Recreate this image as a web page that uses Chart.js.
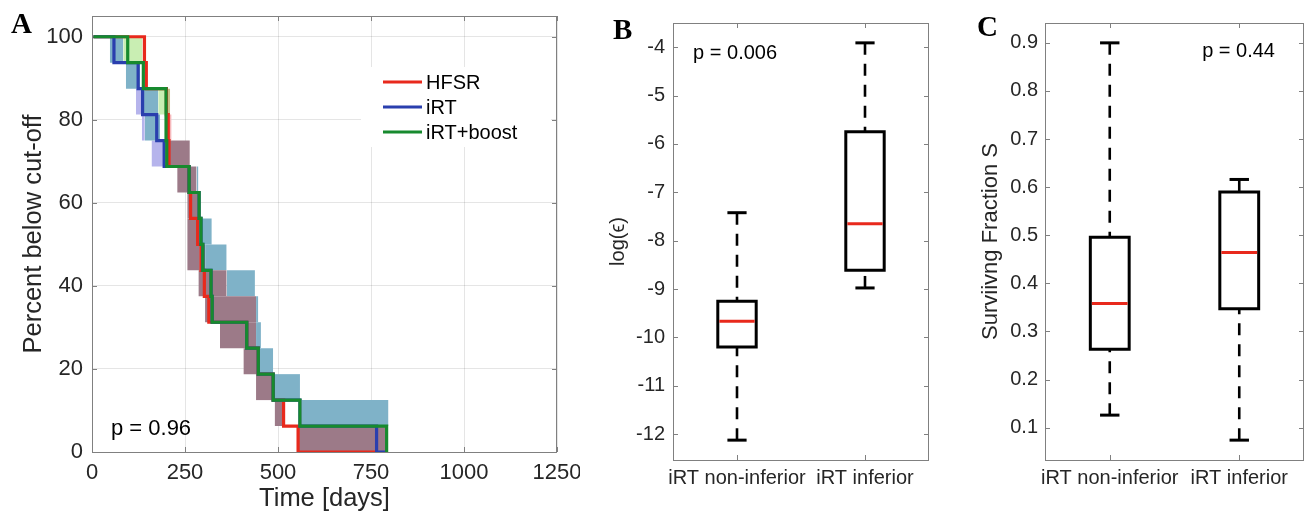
<!DOCTYPE html>
<html><head><meta charset="utf-8">
<script src="https://cdn.jsdelivr.net/npm/chart.js@4.4.1/dist/chart.umd.min.js"></script>
<style>
html,body{margin:0;padding:0;background:#fff;}
body{width:1309px;height:514px;position:relative;overflow:hidden;}
canvas{position:absolute;top:0;}
.lbl{position:absolute;font:bold 29px "Liberation Serif","Times New Roman",serif;line-height:29px;color:#000;}
</style></head><body>
<canvas id="cA" width="580" height="514" style="left:0px"></canvas>
<canvas id="cB" width="360" height="514" style="left:600px"></canvas>
<canvas id="cC" width="349" height="514" style="left:960px"></canvas>
<div class="lbl" style="left:11px;top:9px">A</div>
<div class="lbl" style="left:613px;top:15px">B</div>
<div class="lbl" style="left:977px;top:12px">C</div>
<script>
// ---------------- Panel A data ----------------
const kmLabels = ['HFSR', 'iRT', 'iRT+boost'];
const hfsrDays = [4, 141, 146, 200, 205, 207, 261, 265, 284, 293, 302, 314, 416, 447, 487, 515, 554, 765];
const hfsrPct  = [100, 93.75, 87.5, 81.25, 75, 68.75, 62.5, 56.25, 50, 43.75, 37.5, 31.25, 25, 18.75, 12.5, 6.25, 0, 0];
const irtDays  = [4, 59, 124, 136, 174, 194, 261, 288, 293, 298, 320, 323, 416, 447, 487, 559, 765, 792];
const irtPct   = [100, 93.75, 87.5, 81.25, 75, 68.75, 62.5, 56.25, 50, 43.75, 37.5, 31.25, 25, 18.75, 12.5, 6.25, 0, 0];
const boostDays = [4, 96, 138, 199, 201, 261, 288, 293, 298, 320, 323, 416, 447, 487, 559, 792];
const boostPct  = [100, 93.75, 87.5, 75, 68.75, 62.5, 56.25, 50, 43.75, 37.5, 31.25, 25, 18.75, 12.5, 6.25, 0];

// confidence-band pieces: [startDay, endDay, low %, high %]
const ciAllGroups = [[207,263,68.75,75],[229,281,62.5,68.75],[256,290,56.25,62.5],[256,288,43.75,56.25],
  [288,304,43.75,50],[286,362,37.5,43.75],[304,441,31.25,37.5],[344,441,25,31.25],[407,447,18.75,25],
  [441,492,12.5,18.75],[491,514,6.25,12.5],[554,792,0,6.25]];
const ciBlueGreen = [[48,84,93.75,100],[91,129,87.5,93.75],[138,178,81.25,87.5],[142,183,75,81.25],
  [281,286,62.5,68.75],[288,322,50,56.25],[304,362,43.75,50],[362,438,37.5,43.75],[441,447,31.25,37.5],
  [441,454,25,31.25],[447,487,18.75,25],[492,559,12.5,18.75],[564,797,6.25,12.5]];
const ciBlueOnly  = [[118,138,81.25,87.5],[134,142,75,81.25],[160,196,68.75,75]];
const ciGreenOnly = [[84,136,93.75,100],[178,202,81.25,87.5]];
const ciRedGreen  = [[202,210,81.25,87.5]];
const ciRedOnly   = [[202,214,75,81.25]];

const aXTicks = [0, 250, 500, 750, 1000, 1250];
const aYTicks = [0, 20, 40, 60, 80, 100];

// ---------------- Panels B / C data ----------------
const boxCategories = ['iRT non-inferior', 'iRT inferior'];
const bMedian = [-9.667, -7.649];
const bQ1     = [-10.197, -8.613];
const bQ3     = [-9.254, -5.749];
const bLow    = [-12.125, -8.978];
const bHigh   = [-7.422, -3.910];
const bYTicks = [-12, -11, -10, -9, -8, -7, -6, -5, -4];

const cMedian = [0.358, 0.464];
const cQ1     = [0.263, 0.347];
const cQ3     = [0.496, 0.590];
const cLow    = [0.126, 0.074];
const cHigh   = [0.900, 0.616];
const cYTicks = [0.1, 0.2, 0.3, 0.4, 0.5, 0.6, 0.7, 0.8, 0.9];

// ---------------- helpers ----------------
const TXT = '#262626';
const FRAME = '#808080';
const SANS = '"Liberation Sans", Arial, Helvetica, sans-serif';

function axesPlugin(cfg) {
  return {
    id: 'matlabAxes',
    beforeDatasetsDraw(chart) {
      const {ctx, chartArea: a, scales: {x, y}} = chart;
      ctx.save();
      ctx.strokeStyle = FRAME; ctx.lineWidth = 1;
      const L = cfg.tickLen;
      ctx.beginPath();
      x.ticks.forEach(t => { const p = Math.round(x.getPixelForValue(t.value)) + 0.5;
        ctx.moveTo(p, a.bottom); ctx.lineTo(p, a.bottom - L); ctx.moveTo(p, a.top); ctx.lineTo(p, a.top + L); });
      y.ticks.forEach(t => { const p = Math.round(y.getPixelForValue(t.value)) + 0.5;
        ctx.moveTo(a.left, p); ctx.lineTo(a.left + L, p); ctx.moveTo(a.right, p); ctx.lineTo(a.right - L, p); });
      ctx.stroke();
      ctx.strokeRect(Math.round(a.left) + 0.5, Math.round(a.top) + 0.5, Math.round(a.right - a.left) - 1, Math.round(a.bottom - a.top));
      ctx.restore();
    },
    afterDraw(chart) {
      const {ctx, chartArea: a, scales: {x, y}} = chart;
      ctx.save();
      if (cfg.legend) {
        const L = cfg.legend;
        ctx.fillStyle = '#fff';
        ctx.fillRect(a.left + L.boxX, a.top + L.boxY, L.boxW, L.boxH);
        const items = chart.data.datasets.filter(d => d.isCurve).sort((p, q) => p.legendIndex - q.legendIndex);
        items.forEach((d, i) => {
          const yy = a.top + L.rowY + i * L.rowH;
          ctx.strokeStyle = d.borderColor; ctx.lineWidth = d.borderWidth; ctx.lineCap = 'butt';
          ctx.beginPath(); ctx.moveTo(a.left + L.lineX, yy); ctx.lineTo(a.left + L.lineX + L.lineW, yy); ctx.stroke();
          ctx.fillStyle = '#000'; ctx.font = L.font; ctx.textAlign = 'left'; ctx.textBaseline = 'middle';
          ctx.fillText(d.label, a.left + L.lineX + L.lineW + L.gap, yy + 1);
        });
      }
      (cfg.notes || []).forEach(n => {
        ctx.font = n.font; ctx.fillStyle = '#000'; ctx.textAlign = n.align; ctx.textBaseline = 'alphabetic';
        ctx.fillText(n.text, x.getPixelForValue(n.x), y.getPixelForValue(n.y));
      });
      ctx.restore();
    }
  };
}

function axisCommon(o) {
  return {
    type: 'linear', min: o.min, max: o.max,
    afterBuildTicks: s => { s.ticks = o.ticks.map(v => ({value: v})); },
    afterFit: s => {
      if (o.height !== undefined) s.height = o.height;
      if (o.width !== undefined) s.width = o.width;
      s.paddingTop = 0; s.paddingBottom = 0; s.paddingLeft = 0; s.paddingRight = 0;
    },
    grid: {display: !!o.grid, color: 'rgba(0,0,0,0.1)', drawTicks: false, lineWidth: 1},
    border: {display: false},
    ticks: {color: TXT, font: {family: SANS, size: o.tickSize}, padding: o.pad, maxRotation: 0, autoSkip: false,
            callback: o.fmt},
    title: {display: true, text: o.title, color: TXT, font: {family: SANS, size: o.titleSize}, padding: o.titlePad}
  };
}

function baseOptions(pad, xs, ys) {
  return {
    responsive: false, animation: false, events: [],
    layout: {padding: pad},
    plugins: {legend: {display: false}, tooltip: {enabled: false}},
    elements: {point: {radius: 0}, line: {tension: 0}},
    scales: {x: xs, y: ys}
  };
}

// ---------------- Panel A ----------------
function rectSets(list, color) {
  return list.map(r => ({
    data: [{x: r[0], y: r[3]}, {x: r[1], y: r[3]}],
    fill: {value: r[2]}, backgroundColor: color, borderWidth: 0, borderColor: 'rgba(0,0,0,0)',
    pointRadius: 0, order: 10
  }));
}
function kmSet(label, days, pct, color, idx, order) {
  return {
    label: label, isCurve: true, legendIndex: idx,
    data: days.map((d, i) => ({x: d, y: pct[i]})),
    stepped: true, borderColor: color, borderWidth: 3.2, fill: false, pointRadius: 0,
    borderJoinStyle: 'miter', borderCapStyle: 'butt', order: order
  };
}
const aDatasets = [].concat(
  rectSets(ciAllGroups, '#9c7a88'),
  rectSets(ciBlueGreen, '#7fb2c8'),
  rectSets(ciBlueOnly, '#b6b4ec'),
  rectSets(ciGreenOnly, '#c9eeb3'),
  rectSets(ciRedGreen, '#c9bb88'),
  rectSets(ciRedOnly, '#f6b9bc'),
  [kmSet(kmLabels[0], hfsrDays, hfsrPct, '#e8291c', 0, 3),
   kmSet(kmLabels[1], irtDays, irtPct, '#2a3fae', 1, 2),
   kmSet(kmLabels[2], boostDays, boostPct, '#178a2e', 2, 1)]
);

new Chart(document.getElementById('cA'), {
  type: 'line',
  data: {datasets: aDatasets},
  options: baseOptions({left: 0, top: 16, right: 23, bottom: 0},
    axisCommon({min: 0, max: 1250, ticks: aXTicks, height: 62, grid: true, tickSize: 22, pad: 8,
                fmt: v => String(v), title: 'Time [days]', titleSize: 25.5, titlePad: {top: 0, bottom: 0}}),
    axisCommon({min: 0, max: 105, ticks: aYTicks, width: 92, grid: true, tickSize: 22, pad: 9,
                fmt: v => String(v), title: 'Percent below cut-off', titleSize: 25.5, titlePad: {top: 19, bottom: 0}})),
  plugins: [axesPlugin({
    tickLen: 5,
    legend: {boxX: 269, boxY: 51, boxW: 190, boxH: 80, lineX: 291, lineW: 39, gap: 4, rowY: 66, rowH: 25,
             font: '20px ' + SANS},
    notes: [{text: 'p = 0.96', x: 51, y: 4.1, align: 'left', font: '22px ' + SANS}]
  })]
});

// ---------------- Box plot helper ----------------
const BOX_HALF = 0.15, CAP_HALF = 0.075;
function boxDatasets(med, q1, q3, lo, hi) {
  const ds = [];
  med.forEach((m, i) => {
    const c = i + 1;
    const dash = {borderColor: '#000', borderWidth: 2.6, borderDash: [12, 9], fill: false, pointRadius: 0, order: 3};
    ds.push(Object.assign({data: [{x: c, y: hi[i]}, {x: c, y: q3[i]}]}, dash));
    ds.push(Object.assign({data: [{x: c, y: lo[i]}, {x: c, y: q1[i]}]}, dash));
    const solid = {borderColor: '#000', borderWidth: 3, fill: false, pointRadius: 0, order: 2, borderCapStyle: 'butt'};
    ds.push(Object.assign({data: [{x: c - CAP_HALF, y: hi[i]}, {x: c + CAP_HALF, y: hi[i]}]}, solid));
    ds.push(Object.assign({data: [{x: c - CAP_HALF, y: lo[i]}, {x: c + CAP_HALF, y: lo[i]}]}, solid));
    ds.push({data: [{x: c - BOX_HALF, y: q1[i]}, {x: c + BOX_HALF, y: q1[i]}, {x: c + BOX_HALF, y: q3[i]},
                    {x: c - BOX_HALF, y: q3[i]}, {x: c - BOX_HALF, y: q1[i]}],
             borderColor: '#000', borderWidth: 3, fill: false, pointRadius: 0, order: 1,
             borderJoinStyle: 'miter', borderCapStyle: 'square'});
    ds.push({data: [{x: c - BOX_HALF + 0.012, y: m}, {x: c + BOX_HALF - 0.012, y: m}],
             borderColor: '#e8291c', borderWidth: 3, fill: false, pointRadius: 0, order: 0});
  });
  return ds;
}
function padLimits(lo, hi) {
  const mn = Math.min(...lo), mx = Math.max(...hi), r = mx - mn;
  return [mn - 0.05 * r, mx + 0.05 * r];
}

// ---------------- Panel B ----------------
const bLim = padLimits(bLow, bHigh);
new Chart(document.getElementById('cB'), {
  type: 'line',
  data: {datasets: boxDatasets(bMedian, bQ1, bQ3, bLow, bHigh)},
  options: baseOptions({left: 0, top: 23, right: 31, bottom: 0},
    axisCommon({min: 0.5, max: 2.5, ticks: [1, 2], height: 54, grid: false, tickSize: 20, pad: 6,
                fmt: v => boxCategories[Math.round(v) - 1], title: '', titleSize: 20, titlePad: 0}),
    axisCommon({min: bLim[0], max: bLim[1], ticks: bYTicks, width: 73, grid: false, tickSize: 20, pad: 8,
                fmt: v => String(v), title: 'log(\u03F5)', titleSize: 20, titlePad: {top: 6, bottom: 0}})),
  plugins: [axesPlugin({
    tickLen: 5,
    notes: [{text: 'p = 0.006', x: 0.657, y: -4.24, align: 'left', font: '20px ' + SANS}]
  })]
});

// ---------------- Panel C ----------------
const cLim = padLimits(cLow, cHigh);
new Chart(document.getElementById('cC'), {
  type: 'line',
  data: {datasets: boxDatasets(cMedian, cQ1, cQ3, cLow, cHigh)},
  options: baseOptions({left: 0, top: 23, right: 5, bottom: 0},
    axisCommon({min: 0.5, max: 2.5, ticks: [1, 2], height: 54, grid: false, tickSize: 20, pad: 6,
                fmt: v => boxCategories[Math.round(v) - 1], title: '', titleSize: 20, titlePad: 0}),
    axisCommon({min: cLim[0], max: cLim[1], ticks: cYTicks, width: 85, grid: false, tickSize: 20, pad: 7,
                fmt: v => v.toFixed(1), title: 'Surviivng Fraction S', titleSize: 22, titlePad: {top: 18, bottom: 0}})),
  plugins: [axesPlugin({
    tickLen: 5,
    notes: [{text: 'p = 0.44', x: 2.276, y: 0.870, align: 'right', font: '20px ' + SANS}]
  })]
});
</script>
</body></html>
